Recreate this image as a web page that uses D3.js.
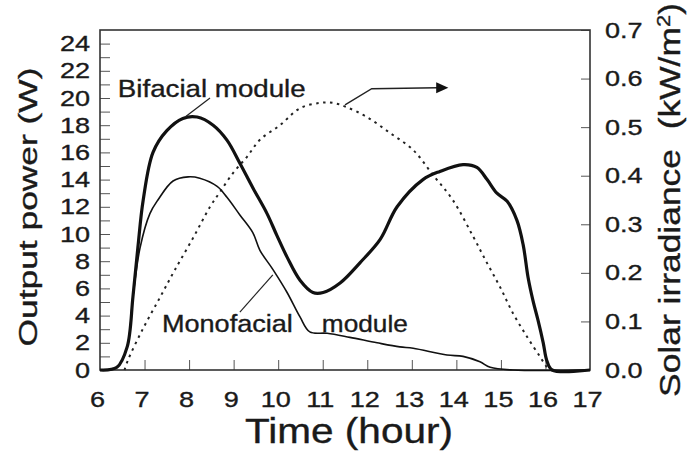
<!DOCTYPE html>
<html>
<head>
<meta charset="utf-8">
<script src="https://cdn.jsdelivr.net/npm/d3@7"></script>
<style>
	body { margin: 0; background: #fff; }
	svg text { font-family: 'Liberation Sans', Arial, sans-serif; fill: #1a1a1a; stroke: #1a1a1a; stroke-width: 0.35px; }
	.tick line { stroke: #555; stroke-width: 1; }
</style>
</head>
<body>
<div id="chart"></div>
<script>
// hours, output power (W) and irradiance (kW/m2)
const bifHours = [6.0, 6.38, 6.61, 6.74, 6.85, 6.97, 7.19, 7.5, 7.86, 8.18, 8.54, 8.85, 9.14, 9.43, 9.75, 9.97, 10.2, 10.49, 10.78, 11.01, 11.39, 11.84, 12.29, 12.67, 13.25, 13.63, 14.15, 14.46, 14.69, 14.91, 15.14, 15.36, 15.5, 15.61, 15.72, 15.83, 15.95, 16.03, 16.15, 17.0];
const bifPower = [0, 0.2, 1.7, 5.4, 9.0, 12.5, 16.0, 17.6, 18.5, 18.6, 18.0, 16.9, 15.2, 13.4, 11.5, 9.9, 8.3, 6.6, 5.7, 5.7, 6.4, 7.9, 9.6, 12.0, 14.0, 14.6, 15.1, 14.9, 14.0, 13.0, 12.4, 11.0, 9.2, 6.8, 5.1, 3.7, 2.0, 0.7, 0, 0];

const monoHours = [6.0, 6.38, 6.61, 6.74, 6.9, 7.12, 7.3, 7.64, 7.98, 8.24, 8.63, 8.85, 9.14, 9.43, 9.59, 9.88, 10.2, 10.49, 10.71, 11.1, 11.61, 12.22, 12.73, 13.03, 13.79, 14.15, 14.53, 14.76, 15.27, 17.0];
const monoPower = [0, 0.2, 1.7, 5.4, 9.0, 11.5, 12.5, 13.9, 14.2, 14.1, 13.5, 12.7, 11.4, 10.1, 8.8, 7.4, 5.7, 3.9, 2.8, 2.7, 2.4, 2.0, 1.7, 1.6, 1.1, 1.0, 0.6, 0.2, 0, 0];

const irrHours = [6.55, 6.63, 6.97, 7.35, 7.68, 8.09, 8.47, 8.69, 8.99, 9.3, 9.59, 10.04, 10.49, 10.94, 11.23, 11.54, 11.99, 12.51, 13.03, 13.48, 13.92, 14.37, 14.69, 14.98, 15.27, 15.59, 15.88, 16.03, 16.1];
const irrValues = [0, 0.021, 0.086, 0.15, 0.206, 0.272, 0.336, 0.366, 0.406, 0.439, 0.474, 0.504, 0.539, 0.55, 0.55, 0.541, 0.521, 0.488, 0.453, 0.401, 0.35, 0.276, 0.22, 0.171, 0.117, 0.068, 0.027, 0.006, 0];

const xTicks = d3.range(6, 18, 1);
const yLeftTicks = d3.range(0, 25, 1);
const yRightTicks = d3.range(0, 0.71, 0.1);

// annotations, in data units
const bifLabel = { text: 'Bifacial module', hour: 6.4, power: 20.07 };
const bifLeader = [[8.47, 20.0], [7.91, 18.6]];
const monoLabels = [{ text: 'Monofacial', hour: 7.39, power: 2.8 }, { text: 'module', hour: 10.98, power: 2.8 }];
const monoLeader = [[9.14, 4.26], [9.88, 7.0]];
const irrArrow = [[11.5, 0.546], [12.1, 0.579], [13.57, 0.581]];
const irrArrowTip = 13.82;

const W = 691, H = 456;
const plot = { left: 100, right: 590, top: 30, bottom: 370 };
const stretch = 1.23; // the original lettering is wide

const svg = d3.select('#chart').append('svg').attr('width', W).attr('height', H);

const x = d3.scaleLinear().domain([6, 17]).range([plot.left, plot.right]);
const yL = d3.scaleLinear().domain([0, 25]).range([plot.bottom, plot.top]);
const yR = d3.scaleLinear().domain([0, 0.7]).range([plot.bottom, plot.top]);

// axes with inward ticks
const xAxis = svg.append('g')
	.attr('transform', 'translate(0,' + plot.bottom + ')')
	.call(d3.axisBottom(x).tickValues(xTicks).tickSize(-10).tickPadding(21).tickFormat(d3.format('d')));

const yAxisL = svg.append('g')
	.attr('transform', 'translate(' + plot.left + ',0)')
	.call(d3.axisLeft(yL).tickValues(yLeftTicks).tickSize(-10).tickPadding(10).tickFormat(d => (d % 2 === 0 ? d : '')));

const yAxisR = svg.append('g')
	.attr('transform', 'translate(' + plot.right + ',0)')
	.call(d3.axisRight(yR).tickValues(yRightTicks).tickSize(-9).tickPadding(15).tickFormat(d3.format('.1f')));

[xAxis, yAxisL, yAxisR].forEach(g => {
	g.select('.domain').remove();
	g.selectAll('text').style('font-size', '22px').attr('fill', '#1a1a1a');
});
xAxis.selectAll('text').attr('x', -3 / stretch).attr('transform', 'scale(' + stretch + ',1)');
yAxisL.selectAll('text').attr('x', -10 / stretch).attr('transform', 'scale(' + stretch + ',1)');
yAxisR.selectAll('text').attr('x', 15 / stretch).attr('transform', 'scale(' + stretch + ',1)');
// first and last x ticks sit on the frame
xAxis.selectAll('.tick line').filter(d => d === 6 || d === 17).remove();

// frame
svg.append('rect')
	.attr('x', plot.left).attr('y', plot.top)
	.attr('width', plot.right - plot.left).attr('height', plot.bottom - plot.top)
	.attr('fill', 'none').attr('stroke', '#333').attr('stroke-width', 1.6);

// curves
const powerLine = d3.line().x(d => x(d[0])).y(d => yL(d[1])).curve(d3.curveCatmullRom.alpha(0.5));
const irrLine = d3.line().x(d => x(d[0])).y(d => yR(d[1])).curve(d3.curveCatmullRom.alpha(0.5));

svg.append('path')
	.attr('d', irrLine(d3.zip(irrHours, irrValues)))
	.attr('fill', 'none').attr('stroke', '#222').attr('stroke-width', 2)
	.attr('stroke-dasharray', '2.5,4.5');

svg.append('path')
	.attr('d', powerLine(d3.zip(monoHours, monoPower)))
	.attr('fill', 'none').attr('stroke', '#111').attr('stroke-width', 1.6)
	.attr('stroke-linejoin', 'round');

svg.append('path')
	.attr('d', powerLine(d3.zip(bifHours, bifPower)))
	.attr('fill', 'none').attr('stroke', '#111').attr('stroke-width', 3.2)
	.attr('stroke-linejoin', 'round');

// annotations
const leader = d3.line().x(d => x(d[0])).y(d => yL(d[1]));
svg.append('path').attr('d', leader(bifLeader)).attr('stroke', '#222').attr('stroke-width', 1.2).attr('fill', 'none');
svg.append('path').attr('d', leader(monoLeader)).attr('stroke', '#222').attr('stroke-width', 1.2).attr('fill', 'none');

const arrowLine = d3.line().x(d => x(d[0])).y(d => yR(d[1]));
svg.append('path').attr('d', arrowLine(irrArrow)).attr('stroke', '#222').attr('stroke-width', 1.4).attr('fill', 'none');
const last = irrArrow[irrArrow.length - 1];
const ax = x(last[0]), ay = yR(last[1]), tip = x(irrArrowTip);
svg.append('path')
	.attr('d', 'M' + tip + ',' + ay + 'L' + (ax - 1) + ',' + (ay - 5.5) + 'L' + (ax - 1) + ',' + (ay + 5.5) + 'Z')
	.attr('fill', '#111');

function wideText(str, px, py, size, angle, targetLen, anchor) {
	const t = svg.append('text')
		.attr('text-anchor', anchor || 'middle')
		.style('font-size', size + 'px')
		.text(str);
	const len = t.node().getComputedTextLength();
	const s = targetLen ? targetLen / len : stretch;
	t.attr('transform', 'translate(' + px + ',' + py + ') rotate(' + angle + ') scale(' + s + ',1)');
	return t;
}

wideText(bifLabel.text, x(bifLabel.hour), yL(bifLabel.power), 24, 0, 188, 'start');
wideText(monoLabels[0].text, x(monoLabels[0].hour), yL(monoLabels[0].power), 24, 0, 131, 'start');
wideText(monoLabels[1].text, x(monoLabels[1].hour), yL(monoLabels[1].power), 24, 0, 86, 'start');

wideText('Time (hour)', 349, 443, 35, 0, 208);
wideText('Output power (W)', 37, 207, 26, -90, 279);

// right label with superscript
const rl = svg.append('text').attr('text-anchor', 'middle').style('font-size', '29px');
rl.append('tspan').text('Solar irradiance\u00a0 (kW/m');
rl.append('tspan').attr('baseline-shift', 'super').style('font-size', '18px').text('2');
rl.append('tspan').text(')');
const rlLen = rl.node().getComputedTextLength();
rl.attr('transform', 'translate(680,200) rotate(-90) scale(' + (394 / rlLen) + ',1)');
</script>
</body>
</html>
